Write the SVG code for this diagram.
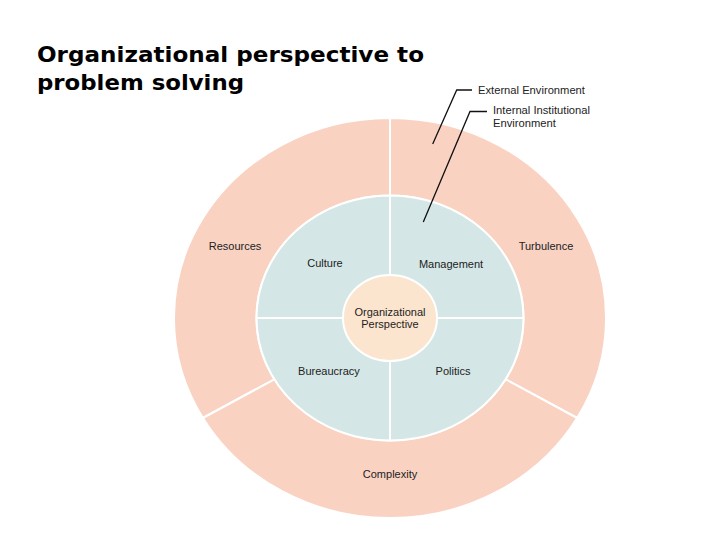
<svg xmlns="http://www.w3.org/2000/svg" width="720" height="540" viewBox="0 0 720 540">
<style>
.title{font-family:"DejaVu Sans","Liberation Sans",sans-serif;font-weight:bold;font-size:22px;fill:#000}
.lbl{font-family:"Liberation Sans",Arial,sans-serif;font-size:11px;fill:#222;text-anchor:middle}
.leg{font-family:"Liberation Sans",Arial,sans-serif;font-size:11.2px;fill:#222}
.outer{fill:#F9D2C2;stroke:#fff;stroke-width:2;stroke-linejoin:round}
.mid{fill:#D4E7E6;stroke:#fff;stroke-width:2;stroke-linejoin:round}
.core{fill:#FCE5CE;stroke:#fff;stroke-width:2}
.lead{fill:none;stroke:#111;stroke-width:1.3}
</style>
<rect width="720" height="540" fill="#fff"/>
<g id="title">
<text class="title" x="37" y="62" textLength="387" lengthAdjust="spacingAndGlyphs">Organizational perspective to</text>
<text class="title" x="37" y="90" textLength="207" lengthAdjust="spacingAndGlyphs">problem solving</text>
</g>
<g id="resources">
<path class="outer" d="M390,118 A216,200 0 0 0 202.9,418 L274.4,379.3 A133.5,122.5 0 0 1 390,195.5 Z"/>
<text class="lbl" x="235" y="250">Resources</text>
</g>
<g id="turbulence">
<path class="outer" d="M390,118 A216,200 0 0 1 577.1,418 L505.6,379.3 A133.5,122.5 0 0 0 390,195.5 Z"/>
<text class="lbl" x="546" y="250">Turbulence</text>
</g>
<g id="complexity">
<path class="outer" d="M202.9,418 A216,200 0 0 0 577.1,418 L505.6,379.3 A133.5,122.5 0 0 1 274.4,379.3 Z"/>
<text class="lbl" x="390" y="478">Complexity</text>
</g>
<g id="culture">
<path class="mid" d="M390,318 L256.5,318 A133.5,122.5 0 0 1 390,195.5 Z"/>
<text class="lbl" x="325" y="267">Culture</text>
</g>
<g id="management">
<path class="mid" d="M390,318 L390,195.5 A133.5,122.5 0 0 1 523.5,318 Z"/>
<text class="lbl" x="451" y="268">Management</text>
</g>
<g id="politics">
<path class="mid" d="M390,318 L523.5,318 A133.5,122.5 0 0 1 390,440.5 Z"/>
<text class="lbl" x="453" y="375">Politics</text>
</g>
<g id="bureaucracy">
<path class="mid" d="M390,318 L390,440.5 A133.5,122.5 0 0 1 256.5,318 Z"/>
<text class="lbl" x="329" y="375">Bureaucracy</text>
</g>
<g id="organizational-perspective">
<ellipse class="core" cx="390" cy="318" rx="47" ry="43"/>
<text class="lbl" x="390" y="316">Organizational</text>
<text class="lbl" x="390" y="328">Perspective</text>
</g>
<g id="connectors">
<polyline class="lead" points="432.7,144 456.7,90 472,90"/>
<polyline class="lead" points="423.3,222 470,111.5 487,111.5"/>
</g>
<g id="legend">
<text class="leg" x="478" y="94">External Environment</text>
<text class="leg" x="493" y="114">Internal Institutional</text>
<text class="leg" x="493" y="127">Environment</text>
</g>
</svg>
